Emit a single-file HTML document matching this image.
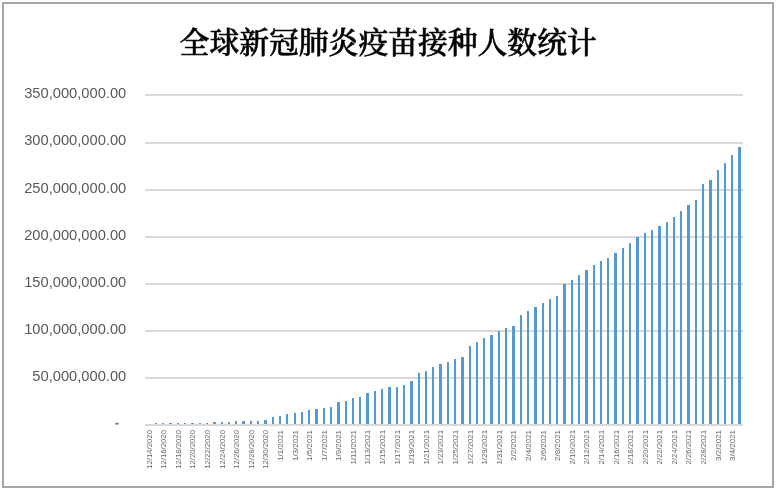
<!DOCTYPE html>
<html lang="zh-CN">
<head>
<meta charset="utf-8">
<title>全球新冠肺炎疫苗接种人数统计</title>
<style>
html,body{margin:0;padding:0;background:#fff;}
body{width:776px;height:492px;overflow:hidden;}
svg{display:block;}
.yl{font-family:"Liberation Sans", sans-serif;font-size:14.7px;fill:#595959;text-anchor:end;}
.xl{font-family:"Liberation Sans", sans-serif;font-size:8px;fill:#666;text-anchor:end;}
.tt{font-family:"Liberation Serif", "Noto Serif CJK SC", serif;font-size:29.8px;font-weight:500;fill:#000;stroke:#000;stroke-width:0.6px;text-anchor:middle;}
.g{stroke:#d9d9d9;stroke-width:2;shape-rendering:crispEdges;}
.b{fill:#5598d6;shape-rendering:crispEdges;}
</style>
</head>
<body>
<svg width="776" height="492" viewBox="0 0 776 492">
<rect x="0" y="0" width="776" height="492" fill="#fff"/>
<rect x="3" y="3" width="770" height="484" fill="#fff" stroke="#a5a5a5" stroke-width="2" shape-rendering="crispEdges"/>
<text class="tt" x="388.2" y="53">全球新冠肺炎疫苗接种人数统计</text>
<g class="g">
<line x1="145" y1="378" x2="743" y2="378"/>
<line x1="145" y1="331" x2="743" y2="331"/>
<line x1="145" y1="284" x2="743" y2="284"/>
<line x1="145" y1="237" x2="743" y2="237"/>
<line x1="145" y1="190" x2="743" y2="190"/>
<line x1="145" y1="143" x2="743" y2="143"/>
<line x1="145" y1="95" x2="743" y2="95"/>
</g>
<g class="b">
<rect x="155" y="423" width="2" height="2"/>
<rect x="162" y="423" width="2" height="2"/>
<rect x="169" y="423" width="3" height="2"/>
<rect x="177" y="423" width="2" height="2"/>
<rect x="184" y="423" width="2" height="2"/>
<rect x="191" y="423" width="3" height="2"/>
<rect x="199" y="423" width="2" height="2"/>
<rect x="206" y="423" width="2" height="2"/>
<rect x="213" y="422" width="3" height="3"/>
<rect x="221" y="422" width="2" height="3"/>
<rect x="228" y="422" width="2" height="3"/>
<rect x="235" y="421" width="2" height="4"/>
<rect x="242" y="421" width="3" height="4"/>
<rect x="250" y="421" width="2" height="4"/>
<rect x="257" y="421" width="2" height="4"/>
<rect x="264" y="420" width="3" height="5"/>
<rect x="272" y="417" width="2" height="8"/>
<rect x="279" y="416" width="2" height="9"/>
<rect x="286" y="414" width="2" height="11"/>
<rect x="294" y="413" width="2" height="12"/>
<rect x="301" y="412" width="2" height="13"/>
<rect x="308" y="410" width="2" height="15"/>
<rect x="315" y="409" width="3" height="16"/>
<rect x="323" y="408" width="2" height="17"/>
<rect x="330" y="407" width="2" height="18"/>
<rect x="337" y="402" width="3" height="23"/>
<rect x="345" y="401" width="2" height="24"/>
<rect x="352" y="398" width="2" height="27"/>
<rect x="359" y="397" width="2" height="28"/>
<rect x="366" y="393" width="3" height="32"/>
<rect x="374" y="391" width="2" height="34"/>
<rect x="381" y="389" width="2" height="36"/>
<rect x="388" y="387" width="3" height="38"/>
<rect x="396" y="387" width="2" height="38"/>
<rect x="403" y="385" width="2" height="40"/>
<rect x="410" y="381" width="3" height="44"/>
<rect x="418" y="373" width="2" height="52"/>
<rect x="425" y="371" width="2" height="54"/>
<rect x="432" y="367" width="2" height="58"/>
<rect x="439" y="364" width="3" height="61"/>
<rect x="447" y="362" width="2" height="63"/>
<rect x="454" y="359" width="2" height="66"/>
<rect x="461" y="357" width="3" height="68"/>
<rect x="469" y="346" width="2" height="79"/>
<rect x="476" y="342" width="2" height="83"/>
<rect x="483" y="338" width="2" height="87"/>
<rect x="490" y="335" width="3" height="90"/>
<rect x="498" y="331" width="2" height="94"/>
<rect x="505" y="328" width="2" height="97"/>
<rect x="512" y="326" width="3" height="99"/>
<rect x="520" y="315" width="2" height="110"/>
<rect x="527" y="311" width="2" height="114"/>
<rect x="534" y="307" width="3" height="118"/>
<rect x="542" y="303" width="2" height="122"/>
<rect x="549" y="299" width="2" height="126"/>
<rect x="556" y="296" width="2" height="129"/>
<rect x="563" y="284" width="3" height="141"/>
<rect x="571" y="280" width="2" height="145"/>
<rect x="578" y="275" width="2" height="150"/>
<rect x="585" y="270" width="3" height="155"/>
<rect x="593" y="265" width="2" height="160"/>
<rect x="600" y="261" width="2" height="164"/>
<rect x="607" y="258" width="2" height="167"/>
<rect x="614" y="253" width="3" height="172"/>
<rect x="622" y="248" width="2" height="177"/>
<rect x="629" y="243" width="2" height="182"/>
<rect x="636" y="237" width="3" height="188"/>
<rect x="644" y="233" width="2" height="192"/>
<rect x="651" y="230" width="2" height="195"/>
<rect x="658" y="226" width="3" height="199"/>
<rect x="666" y="222" width="2" height="203"/>
<rect x="673" y="217" width="2" height="208"/>
<rect x="680" y="211" width="2" height="214"/>
<rect x="687" y="205" width="3" height="220"/>
<rect x="695" y="200" width="2" height="225"/>
<rect x="702" y="184" width="2" height="241"/>
<rect x="709" y="180" width="3" height="245"/>
<rect x="717" y="170" width="2" height="255"/>
<rect x="724" y="163" width="2" height="262"/>
<rect x="731" y="155" width="2" height="270"/>
<rect x="738" y="147" width="3" height="278"/>
</g>
<line class="g" x1="145" y1="425" x2="743" y2="425"/>
<g class="yl">
<text x="119.2" y="427.2" style="fill:#858585;stroke:#858585;stroke-width:0.6px;font-size:13px">-</text>
<text x="126.3" y="381.1">50,000,000.00</text>
<text x="126.3" y="333.9">100,000,000.00</text>
<text x="126.3" y="286.8">150,000,000.00</text>
<text x="126.3" y="239.6">200,000,000.00</text>
<text x="126.3" y="192.5">250,000,000.00</text>
<text x="126.3" y="145.3">300,000,000.00</text>
<text x="126.3" y="98.2">350,000,000.00</text>
</g>
<g class="xl">
<text transform="translate(151.65,430.0) rotate(-90)" x="0" y="0" textLength="38.8" lengthAdjust="spacingAndGlyphs">12/14/2020</text>
<text transform="translate(166.24,430.0) rotate(-90)" x="0" y="0" textLength="38.8" lengthAdjust="spacingAndGlyphs">12/16/2020</text>
<text transform="translate(180.83,430.0) rotate(-90)" x="0" y="0" textLength="38.8" lengthAdjust="spacingAndGlyphs">12/18/2020</text>
<text transform="translate(195.42,430.0) rotate(-90)" x="0" y="0" textLength="38.8" lengthAdjust="spacingAndGlyphs">12/20/2020</text>
<text transform="translate(210.01,430.0) rotate(-90)" x="0" y="0" textLength="38.8" lengthAdjust="spacingAndGlyphs">12/22/2020</text>
<text transform="translate(224.60,430.0) rotate(-90)" x="0" y="0" textLength="38.8" lengthAdjust="spacingAndGlyphs">12/24/2020</text>
<text transform="translate(239.19,430.0) rotate(-90)" x="0" y="0" textLength="38.8" lengthAdjust="spacingAndGlyphs">12/26/2020</text>
<text transform="translate(253.78,430.0) rotate(-90)" x="0" y="0" textLength="38.8" lengthAdjust="spacingAndGlyphs">12/28/2020</text>
<text transform="translate(268.37,430.0) rotate(-90)" x="0" y="0" textLength="38.8" lengthAdjust="spacingAndGlyphs">12/30/2020</text>
<text transform="translate(282.96,430.0) rotate(-90)" x="0" y="0" textLength="30.9" lengthAdjust="spacingAndGlyphs">1/1/2021</text>
<text transform="translate(297.54,430.0) rotate(-90)" x="0" y="0" textLength="30.9" lengthAdjust="spacingAndGlyphs">1/3/2021</text>
<text transform="translate(312.13,430.0) rotate(-90)" x="0" y="0" textLength="30.9" lengthAdjust="spacingAndGlyphs">1/5/2021</text>
<text transform="translate(326.72,430.0) rotate(-90)" x="0" y="0" textLength="30.9" lengthAdjust="spacingAndGlyphs">1/7/2021</text>
<text transform="translate(341.31,430.0) rotate(-90)" x="0" y="0" textLength="30.9" lengthAdjust="spacingAndGlyphs">1/9/2021</text>
<text transform="translate(355.90,430.0) rotate(-90)" x="0" y="0" textLength="34.6" lengthAdjust="spacingAndGlyphs">1/11/2021</text>
<text transform="translate(370.49,430.0) rotate(-90)" x="0" y="0" textLength="34.6" lengthAdjust="spacingAndGlyphs">1/13/2021</text>
<text transform="translate(385.08,430.0) rotate(-90)" x="0" y="0" textLength="34.6" lengthAdjust="spacingAndGlyphs">1/15/2021</text>
<text transform="translate(399.67,430.0) rotate(-90)" x="0" y="0" textLength="34.6" lengthAdjust="spacingAndGlyphs">1/17/2021</text>
<text transform="translate(414.26,430.0) rotate(-90)" x="0" y="0" textLength="34.6" lengthAdjust="spacingAndGlyphs">1/19/2021</text>
<text transform="translate(428.85,430.0) rotate(-90)" x="0" y="0" textLength="34.6" lengthAdjust="spacingAndGlyphs">1/21/2021</text>
<text transform="translate(443.44,430.0) rotate(-90)" x="0" y="0" textLength="34.6" lengthAdjust="spacingAndGlyphs">1/23/2021</text>
<text transform="translate(458.03,430.0) rotate(-90)" x="0" y="0" textLength="34.6" lengthAdjust="spacingAndGlyphs">1/25/2021</text>
<text transform="translate(472.62,430.0) rotate(-90)" x="0" y="0" textLength="34.6" lengthAdjust="spacingAndGlyphs">1/27/2021</text>
<text transform="translate(487.21,430.0) rotate(-90)" x="0" y="0" textLength="34.6" lengthAdjust="spacingAndGlyphs">1/29/2021</text>
<text transform="translate(501.80,430.0) rotate(-90)" x="0" y="0" textLength="34.6" lengthAdjust="spacingAndGlyphs">1/31/2021</text>
<text transform="translate(516.39,430.0) rotate(-90)" x="0" y="0" textLength="30.9" lengthAdjust="spacingAndGlyphs">2/2/2021</text>
<text transform="translate(530.98,430.0) rotate(-90)" x="0" y="0" textLength="30.9" lengthAdjust="spacingAndGlyphs">2/4/2021</text>
<text transform="translate(545.57,430.0) rotate(-90)" x="0" y="0" textLength="30.9" lengthAdjust="spacingAndGlyphs">2/6/2021</text>
<text transform="translate(560.16,430.0) rotate(-90)" x="0" y="0" textLength="30.9" lengthAdjust="spacingAndGlyphs">2/8/2021</text>
<text transform="translate(574.75,430.0) rotate(-90)" x="0" y="0" textLength="34.6" lengthAdjust="spacingAndGlyphs">2/10/2021</text>
<text transform="translate(589.34,430.0) rotate(-90)" x="0" y="0" textLength="34.6" lengthAdjust="spacingAndGlyphs">2/12/2021</text>
<text transform="translate(603.93,430.0) rotate(-90)" x="0" y="0" textLength="34.6" lengthAdjust="spacingAndGlyphs">2/14/2021</text>
<text transform="translate(618.52,430.0) rotate(-90)" x="0" y="0" textLength="34.6" lengthAdjust="spacingAndGlyphs">2/16/2021</text>
<text transform="translate(633.11,430.0) rotate(-90)" x="0" y="0" textLength="34.6" lengthAdjust="spacingAndGlyphs">2/18/2021</text>
<text transform="translate(647.70,430.0) rotate(-90)" x="0" y="0" textLength="34.6" lengthAdjust="spacingAndGlyphs">2/20/2021</text>
<text transform="translate(662.29,430.0) rotate(-90)" x="0" y="0" textLength="34.6" lengthAdjust="spacingAndGlyphs">2/22/2021</text>
<text transform="translate(676.88,430.0) rotate(-90)" x="0" y="0" textLength="34.6" lengthAdjust="spacingAndGlyphs">2/24/2021</text>
<text transform="translate(691.47,430.0) rotate(-90)" x="0" y="0" textLength="34.6" lengthAdjust="spacingAndGlyphs">2/26/2021</text>
<text transform="translate(706.06,430.0) rotate(-90)" x="0" y="0" textLength="34.6" lengthAdjust="spacingAndGlyphs">2/28/2021</text>
<text transform="translate(720.65,430.0) rotate(-90)" x="0" y="0" textLength="30.9" lengthAdjust="spacingAndGlyphs">3/2/2021</text>
<text transform="translate(735.24,430.0) rotate(-90)" x="0" y="0" textLength="30.9" lengthAdjust="spacingAndGlyphs">3/4/2021</text>
</g>
</svg>
</body>
</html>
